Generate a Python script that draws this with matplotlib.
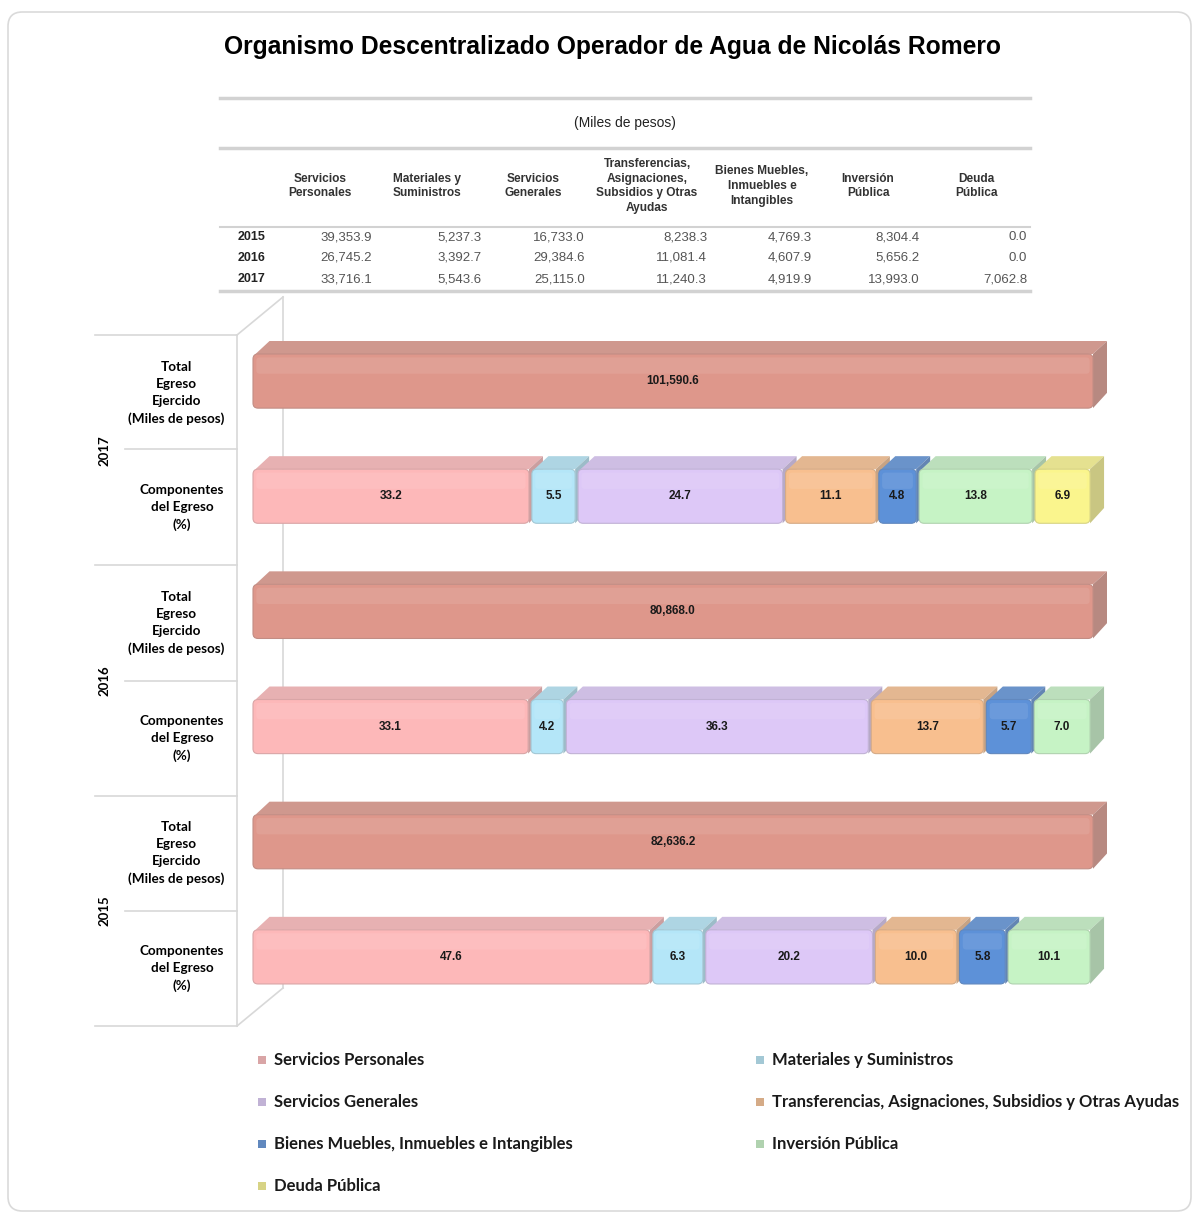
import numpy as np
import matplotlib
matplotlib.use("Agg")
import matplotlib.pyplot as plt
import matplotlib.transforms as mtransforms
import matplotlib.colors as mcolors
from matplotlib.patches import FancyBboxPatch, Polygon, Rectangle
from matplotlib.lines import Line2D

# ---- data ----
categories = ["Servicios Personales", "Materiales y Suministros", "Servicios Generales",
              "Transferencias, Asignaciones, Subsidios y Otras Ayudas",
              "Bienes Muebles, Inmuebles e Intangibles", "Inversión Pública", "Deuda Pública"]
table_headers = ["Servicios\nPersonales", "Materiales y\nSuministros", "Servicios\nGenerales",
                 "Transferencias,\nAsignaciones,\nSubsidios y Otras\nAyudas",
                 "Bienes Muebles,\nInmuebles e\nIntangibles", "Inversión\nPública", "Deuda\nPública"]
table_years = ["2015", "2016", "2017"]
egreso_2015 = [39353.9, 5237.3, 16733.0, 8238.3, 4769.3, 8304.4, 0.0]
egreso_2016 = [26745.2, 3392.7, 29384.6, 11081.4, 4607.9, 5656.2, 0.0]
egreso_2017 = [33716.1, 5543.6, 25115.0, 11240.3, 4919.9, 13993.0, 7062.8]

bar_years = ["2017", "2016", "2015"]
totals = [101590.6, 80868.0, 82636.2]
pct_2017 = [33.2, 5.5, 24.7, 11.1, 4.8, 13.8, 6.9]
pct_2016 = [33.1, 4.2, 36.3, 13.7, 5.7, 7.0, 0.0]
pct_2015 = [47.6, 6.3, 20.2, 10.0, 5.8, 10.1, 0.0]

colors = ["#FDB8B9", "#B4E6F8", "#DDC8F7", "#F8BF8F", "#5D91D8", "#C6F3C5", "#FAF58D"]
total_color = "#DE978B"

W, H = 1199, 1215
fig = plt.figure(figsize=(W / 100, H / 100), dpi=100)
px = mtransforms.Affine2D().scale(1 / W, -1 / H).translate(0, 1) + fig.transFigure

# card border
fig.patches.append(FancyBboxPatch((8 / W, 1 - 1211 / H), 1183 / W, 1199 / H,
                                  boxstyle="round,pad=0,rounding_size=0.012",
                                  mutation_aspect=W / H, transform=fig.transFigure,
                                  facecolor="white", edgecolor="#dadada", lw=1.2, zorder=-5))

fig.text(612 / W, 1 - 47 / H, "Organismo Descentralizado Operador de Agua de Nicolás Romero",
         ha="center", va="center", fontsize=17.7, fontweight="bold", family="Liberation Sans")

# ---- table ----
for y, lw in [(98, 2.5), (148, 2.5), (227, 1.5), (291, 2.5)]:
    fig.add_artist(Line2D([220, 1030], [y, y], transform=px, color="#d2d2d2", lw=lw))
fig.text(625 / W, 1 - 123 / H, "(Miles de pesos)", ha="center", va="center",
         fontsize=10, family="Liberation Sans", color="#222")
col_center = [320, 427, 533, 647, 762, 868, 976]
col_right = [372, 482, 585, 707, 812, 920, 1027]
for cx, head in zip(col_center, table_headers):
    fig.text(cx / W, 1 - 186 / H, head, ha="center", va="center", fontsize=8.6,
             fontweight="bold", family="Liberation Sans", color="#333", linespacing=1.3)
for yr, vals, ry in zip(table_years, [egreso_2015, egreso_2016, egreso_2017], [237, 258, 279]):
    fig.text(238 / W, 1 - ry / H, yr, ha="left", va="center", fontsize=9,
             fontweight="bold", family="Liberation Sans", color="#222")
    for xr, v in zip(col_right, vals):
        fig.text(xr / W, 1 - ry / H, f"{v:,.1f}", ha="right", va="center", fontsize=9.5,
                 family="Liberation Sans", color="#555")

# ---- frame of the 3D chart (behind the bars) ----
frame = "#d8d8d8"
for xs, ys in [([95, 237], [335, 335]), ([237, 283], [335, 297]), ([237, 237], [335, 1026]),
               ([283, 283], [297, 988]), ([237, 283], [1026, 988]), ([95, 237], [1026, 1026]),
               ([95, 237], [565, 565]), ([95, 237], [796, 796]),
               ([125, 237], [449, 449]), ([125, 237], [681, 681]), ([125, 237], [911, 911])]:
    fig.add_artist(Line2D(xs, ys, transform=px, color=frame, lw=1.2, zorder=-1))

# ---- bars ----
AX_L, AX_R, X0, SCALE = 237, 1112, 253, 8.4
ax = fig.add_axes([AX_L / W, 1 - 1026 / H, (AX_R - AX_L) / W, (1026 - 335) / H])
ax.set_xlim((AX_L - X0) / SCALE, (AX_R - X0) / SCALE)
ax.set_ylim(5.5, -0.5)
ax.axis("off")

DX, DY = 14 / SCALE, 13 / 115.2
BH = 0.47
MA = SCALE / 115.2


def shade(c, amt, to="#6e6e6e"):
    a = np.array(mcolors.to_rgb(c))
    b = np.array(mcolors.to_rgb(to))
    return tuple(a * (1 - amt) + b * amt)


def box3d(left, width, yc, color, label):
    top = yc - BH / 2
    bot = yc + BH / 2
    ax.add_patch(Polygon([(left + 0.3, top), (left + DX + 0.3, top - DY), (left + width + DX, top - DY),
                          (left + width, top)], closed=True, facecolor=shade(color, 0.22, "#9a9a9a"),
                         edgecolor="none"))
    ax.add_patch(Polygon([(left + width, top), (left + width + DX, top - DY), (left + width + DX, bot - DY - 0.02),
                          (left + width, bot)], closed=True, facecolor=shade(color, 0.35),
                         edgecolor="none"))
    ax.add_patch(FancyBboxPatch((left, top), width, BH, boxstyle="round,pad=0,rounding_size=0.6",
                                mutation_aspect=MA, facecolor=color, edgecolor=shade(color, 0.25),
                                lw=0.8))
    ax.add_patch(FancyBboxPatch((left + 0.4, top + 0.03), width - 0.8, BH * 0.3,
                                boxstyle="round,pad=0,rounding_size=0.4", mutation_aspect=MA,
                                facecolor="white", edgecolor="none", alpha=0.09))
    ax.text(left + width / 2, yc, label, ha="center", va="center", fontsize=8.5,
            fontweight="bold", family="Liberation Sans", color="#1a1a1a")


GAP = 0.35
lab_tr = mtransforms.blended_transform_factory(ax.transAxes, ax.transData)
for i, (yr, tot, pct) in enumerate(zip(bar_years, totals, [pct_2017, pct_2016, pct_2015])):
    yt = 2 * i - 0.1
    yc = 2 * i + 1 - 0.1
    box3d(0, 100, yt, total_color, f"{tot:,.1f}")
    lefts = np.concatenate([[0], np.cumsum(pct)[:-1]])
    for left, w, c in zip(lefts, pct, colors):
        if w > 0:
            box3d(left, w - GAP, yc, c, f"{w:.1f}")
    # category labels
    ax.text(-0.069, 2 * i, "Total\nEgreso\nEjercido\n(Miles de pesos)", transform=lab_tr,
            ha="center", va="center", fontsize=9.7, fontweight="bold", family="Lato",
            linespacing=1.5)
    ax.text(-0.063, 2 * i + 1, "Componentes\ndel Egreso\n(%)", transform=lab_tr,
            ha="center", va="center", fontsize=9.7, fontweight="bold", family="Lato",
            linespacing=1.5)
    ax.text(-0.151, 2 * i + 0.5, yr, transform=lab_tr,
            ha="center", va="center", rotation=90, fontsize=9.5, fontweight="bold", family="Lato")

# ---- legend ----
leg_pos = [(262, 1060), (760, 1060), (262, 1102), (760, 1102), (262, 1144), (760, 1144), (262, 1186)]
for (lx, ly), name, c in zip(leg_pos, categories, colors):
    fig.add_artist(Rectangle((lx - 4, ly - 4), 8, 8, transform=px, facecolor=shade(c, 0.25),
                             edgecolor="none"))
    fig.text((lx + 12) / W, 1 - ly / H, name, ha="left", va="center", fontsize=12,
             fontweight="bold", family="Lato", color="#1a1a1a")

fig.savefig("out.png", dpi=100)
